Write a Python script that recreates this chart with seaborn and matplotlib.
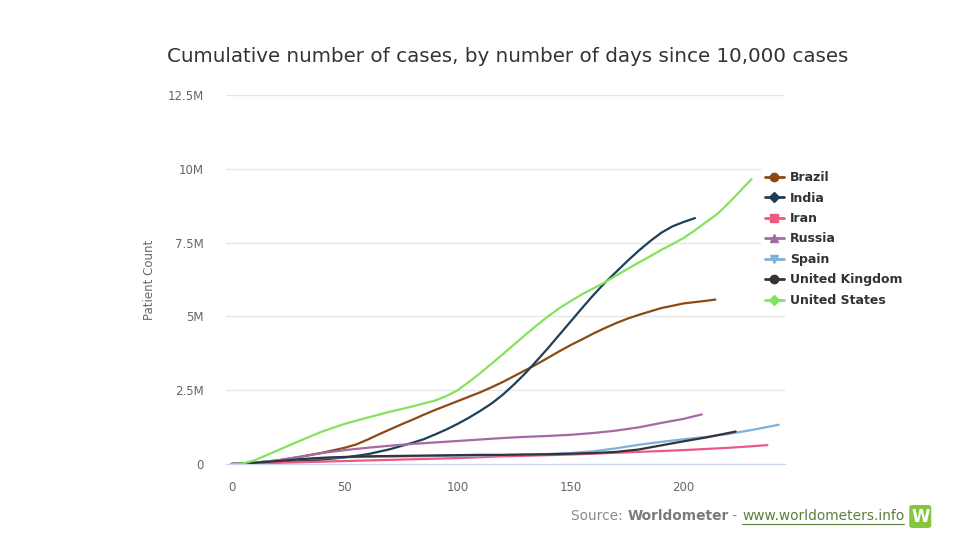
import numpy as np
import pandas as pd
import seaborn as sns
import matplotlib.pyplot as plt
from matplotlib.lines import Line2D
from matplotlib.patches import FancyBboxPatch
from matplotlib.ticker import FuncFormatter

sns.set_style("white")
plt.rcParams['font.family'] = ['DejaVu Sans']

# Cumulative cases (millions)
brazil_days = [0, 10, 20, 30, 40, 50, 55, 60, 65, 70, 75, 80, 85, 90, 95, 100, 105, 110, 115, 120, 125, 130,
               135, 140, 145, 150, 155, 160, 165, 170, 175, 180, 190, 200, 210, 214]
brazil_vals = [0, 0.05, 0.12, 0.24, 0.38, 0.55, 0.66, 0.82, 1.0, 1.17, 1.34, 1.5, 1.67, 1.83, 1.98, 2.13, 2.28,
               2.43, 2.6, 2.78, 2.98, 3.18, 3.38, 3.6, 3.82, 4.03, 4.22, 4.42, 4.6, 4.77, 4.92, 5.05, 5.28, 5.44,
               5.53, 5.57]

india_days = [0, 10, 20, 30, 40, 50, 60, 70, 80, 85, 90, 95, 100, 105, 110, 115, 120, 125, 130, 135, 140, 145,
              150, 155, 160, 165, 170, 175, 180, 185, 190, 195, 200, 205]
india_vals = [0, 0.03, 0.06, 0.1, 0.15, 0.22, 0.33, 0.5, 0.72, 0.84, 1.0, 1.17, 1.36, 1.57, 1.8, 2.05, 2.35, 2.7,
              3.08, 3.5, 3.93, 4.38, 4.83, 5.28, 5.72, 6.13, 6.5, 6.87, 7.22, 7.54, 7.83, 8.05, 8.2, 8.33]

iran_days = [0, 10, 20, 30, 40, 50, 60, 70, 80, 90, 100, 110, 120, 130, 140, 150, 160, 170, 180, 190, 200, 210, 220, 230, 237]
iran_vals = [0, 0.02, 0.04, 0.06, 0.08, 0.1, 0.12, 0.14, 0.16, 0.18, 0.2, 0.23, 0.26, 0.28, 0.3, 0.32, 0.35, 0.38,
             0.41, 0.44, 0.47, 0.51, 0.55, 0.6, 0.64]

russia_days = [0, 10, 20, 30, 40, 50, 60, 70, 80, 90, 100, 110, 120, 130, 140, 150, 160, 170, 180, 190, 200, 208]
russia_vals = [0, 0.04, 0.12, 0.24, 0.37, 0.47, 0.55, 0.62, 0.68, 0.73, 0.78, 0.83, 0.88, 0.92, 0.95, 0.99, 1.05,
               1.13, 1.24, 1.39, 1.53, 1.68]

spain_days = [0, 10, 20, 30, 40, 50, 60, 70, 80, 90, 100, 110, 120, 130, 140, 150, 160, 170, 180, 190, 200, 210, 220, 230, 242]
spain_vals = [0, 0.05, 0.11, 0.16, 0.2, 0.23, 0.24, 0.25, 0.26, 0.27, 0.28, 0.29, 0.3, 0.32, 0.34, 0.37, 0.43, 0.53,
              0.65, 0.75, 0.84, 0.92, 1.02, 1.15, 1.33]

uk_days = [0, 10, 20, 30, 40, 50, 60, 70, 80, 90, 100, 110, 120, 130, 140, 150, 160, 170, 180, 190, 200, 210, 223]
uk_vals = [0, 0.04, 0.1, 0.16, 0.21, 0.24, 0.26, 0.27, 0.28, 0.29, 0.3, 0.31, 0.31, 0.32, 0.33, 0.35, 0.37, 0.41,
           0.49, 0.63, 0.77, 0.9, 1.1]

us_days = [0, 5, 10, 20, 30, 40, 50, 60, 70, 80, 90, 95, 100, 105, 110, 115, 120, 125, 130, 135, 140, 145, 150,
           155, 160, 165, 170, 175, 180, 185, 190, 195, 200, 205, 210, 215, 220, 225, 230]
us_vals = [0, 0.02, 0.12, 0.45, 0.78, 1.1, 1.36, 1.57, 1.77, 1.95, 2.15, 2.3, 2.5, 2.78, 3.08, 3.4, 3.72, 4.05,
           4.38, 4.7, 5.0, 5.28, 5.52, 5.75, 5.95, 6.15, 6.38, 6.6, 6.82, 7.03, 7.25, 7.45, 7.66, 7.92, 8.2, 8.48,
           8.85, 9.25, 9.65]

countries = ["Brazil", "India", "Iran", "Russia", "Spain", "United Kingdom", "United States"]
series = [(brazil_days, brazil_vals), (india_days, india_vals), (iran_days, iran_vals),
          (russia_days, russia_vals), (spain_days, spain_vals), (uk_days, uk_vals), (us_days, us_vals)]

colors = ["#8c4a12", "#1d3f57", "#ec5a82", "#a56aa6", "#7fb0dc", "#333338", "#84e35c"]
markers = ["o", "D", "s", "^", "v", "o", "D"]

rows = []
for name, (d, v) in zip(countries, series):
    for x, y in zip(d, v):
        rows.append({"country": name, "day": x, "cases": y * 1e6})
df = pd.DataFrame(rows)

fig = plt.figure(figsize=(9.58, 5.39), dpi=100)
ax = fig.add_axes([226 / 958, 1 - 464 / 539, (785 - 226) / 958, (464 - 95) / 539])

sns.lineplot(data=df, x="day", y="cases", hue="country", hue_order=countries,
             palette=colors, linewidth=1.6, ax=ax, legend=False)

ax.set_xlim(-2.5, 244.8)
ax.set_ylim(0, 12.5e6)
ax.set_yticks([0, 2.5e6, 5e6, 7.5e6, 10e6, 12.5e6])
ax.set_xticks([0, 50, 100, 150, 200])
ax.yaxis.set_major_formatter(FuncFormatter(lambda v, p: "0" if v == 0 else f"{v / 1e6:g}M"))
ax.grid(axis="y", color="#e6e6e6", linewidth=1)
ax.set_axisbelow(True)
for s in ["top", "right", "left"]:
    ax.spines[s].set_visible(False)
ax.spines["bottom"].set_color("#ccd6eb")
ax.tick_params(axis="x", colors="#ccd6eb", length=8, width=1, direction="out", labelcolor="#666666", labelsize=8.5, pad=4)
ax.tick_params(axis="y", length=0, labelcolor="#666666", labelsize=8.5, pad=16)
ax.set_xlabel("")
ax.set_ylabel("Patient Count", color="#666666", fontsize=8.5, labelpad=8)

fig.text(0.5 * (167 + 848) / 958, 1 - 56 / 539, "Cumulative number of cases, by number of days since 10,000 cases",
         ha="center", va="center", fontsize=14.3, color="#333333")

handles = [Line2D([0], [0], color=c, marker=m, markersize=6 if m != "D" else 5, linewidth=2)
           for c, m in zip(colors, markers)]
leg = ax.legend(handles, countries, loc="upper left", bbox_to_anchor=(755 / 958, 1 - 161 / 539),
                bbox_transform=fig.transFigure, frameon=True, facecolor="white", edgecolor="none",
                framealpha=1, handlelength=1.5, handletextpad=0.5, labelspacing=0.6, borderpad=0.3,
                prop={"weight": "bold", "size": 9})
for t in leg.get_texts():
    t.set_color("#333333")

# source line
fs = 9.9
yc = 1 - 516 / 539
t1 = fig.text(571 / 958, yc, "Source: ", fontsize=fs, color="#8a8a8a", va="center", ha="left")
t2 = fig.text(0, 0, "Worldometer", fontsize=fs, color="#7a7a7a", fontweight="bold", va="center")
fig.canvas.draw()
r = fig.canvas.get_renderer()
bb = t1.get_window_extent(r)
t2.set_position((bb.x1 / 958, yc))
bb = t2.get_window_extent(r)
t3 = fig.text(bb.x1 / 958, yc, " - ", fontsize=fs, color="#8a8a8a", va="center")
bb = t3.get_window_extent(r)
t4 = fig.text(bb.x1 / 958, yc, "www.worldometers.info", fontsize=fs, color="#5b7f3c", va="center")
bb = t4.get_window_extent(r)
fig.add_artist(Line2D([bb.x0 / 958, bb.x1 / 958], [(bb.y0 - 1) / 539, (bb.y0 - 1) / 539], color="#5b7f3c", linewidth=0.8))
lx0 = bb.x1 / 958 + 5 / 958
fig.patches.append(FancyBboxPatch((lx0, 1 - 528 / 539), 22 / 958, 23 / 539,
                                  boxstyle="round,pad=0,rounding_size=0.004", transform=fig.transFigure,
                                  facecolor="#86c440", edgecolor="none", figure=fig))
fig.text(lx0 + 11 / 958, 1 - 516.5 / 539, "W", fontsize=12, fontweight="bold", color="white", ha="center", va="center")

fig.savefig("out.png", dpi=100)
